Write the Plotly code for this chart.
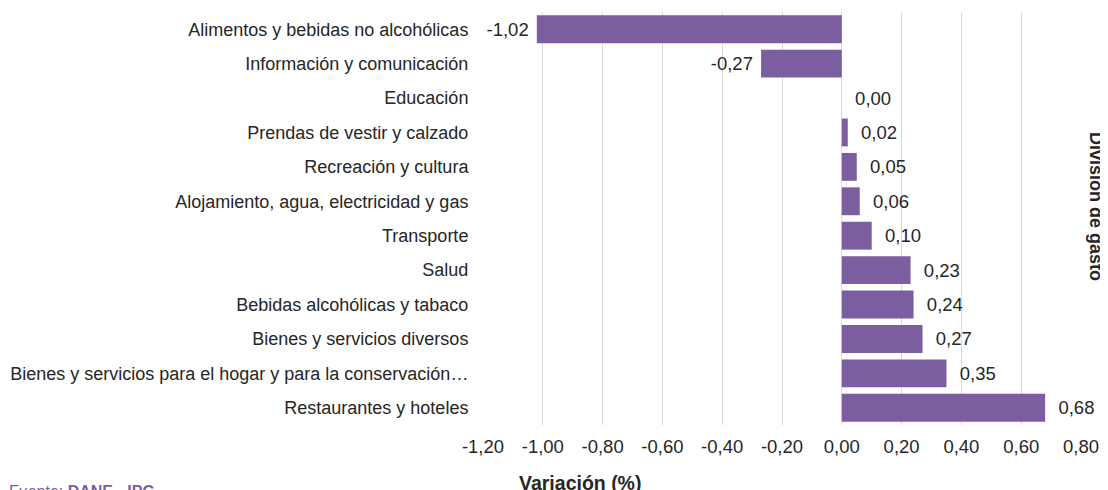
import plotly.graph_objects as go

categories = [
    "Alimentos y bebidas no alcohólicas",
    "Información y comunicación",
    "Educación",
    "Prendas de vestir y calzado",
    "Recreación y cultura",
    "Alojamiento, agua, electricidad y gas",
    "Transporte",
    "Salud",
    "Bebidas alcohólicas y tabaco",
    "Bienes y servicios diversos",
    "Bienes y servicios para el hogar y para la conservación…",
    "Restaurantes y hoteles",
]
values = [-1.02, -0.27, 0.00, 0.02, 0.05, 0.06, 0.10, 0.23, 0.24, 0.27, 0.35, 0.68]
tick_vals = [-1.2, -1.0, -0.8, -0.6, -0.4, -0.2, 0.0, 0.2, 0.4, 0.6, 0.8]
tick_text = ["-1,20", "-1,00", "-0,80", "-0,60", "-0,40", "-0,20", "0,00", "0,20", "0,40", "0,60", "0,80"]

def fmt(v):
    s = f"{v:.2f}".replace(".", ",")
    return s + "\u00a0" if v < 0 else "\u00a0\u00a0" + s

labels = [fmt(v) for v in values]

FONT = "Liberation Sans, Arial, sans-serif"
TXT = "#262626"
FS = 18.5

W, H = 1100, 482
L, R, T, B = 475, 27, 4, 65
PW, PH = W - L - R, H - T - B

fig = go.Figure(go.Bar(
    x=values, y=categories, orientation="h",
    marker=dict(color="#7b5e9f", line=dict(width=0)),
    text=labels, textposition="outside", cliponaxis=False,
    textfont=dict(family=FONT, size=FS, color=TXT),
))

fig.update_layout(
    width=W, height=H,
    margin=dict(l=L, r=R, t=T, b=B, autoexpand=False),
    paper_bgcolor="white", plot_bgcolor="white",
    bargap=0.19, showlegend=False,
    font=dict(family=FONT, size=FS, color=TXT),
    xaxis=dict(range=[-1.2, 0.8], tickvals=tick_vals, ticktext=tick_text,
               showgrid=True, gridcolor="#d9d9d9", gridwidth=1, zeroline=False,
               ticks="outside", ticklen=5, tickcolor="rgba(0,0,0,0)",
               tickfont=dict(size=FS, color=TXT), showline=False, automargin=False),
    yaxis=dict(autorange="reversed", showgrid=False, zeroline=False,
               ticks="outside", ticklen=10, tickcolor="rgba(0,0,0,0)",
               tickfont=dict(size=18, color=TXT), automargin=False),
    annotations=[
        dict(text="<b>Variación (%)</b>", xref="paper", yref="paper",
             x=(572 - L) / PW, y=-(475 - (H - B)) / PH, xanchor="center", yanchor="middle",
             showarrow=False, font=dict(size=19.5, color=TXT)),
        dict(text="<b>División de gasto</b>", xref="paper", yref="paper",
             x=(1088 - L) / PW, y=((H - B) - 198) / PH, xanchor="center", yanchor="middle",
             textangle=90, showarrow=False, font=dict(size=18, color=TXT)),
        dict(text="Fuente: <b>DANE - IPC</b>", xref="paper", yref="paper",
             x=-(L - 0) / PW, y=-(474 - (H - B)) / PH, xanchor="left", yanchor="top",
             borderpad=0, showarrow=False, font=dict(size=16, color="#7b5e9f")),
    ],
)

fig.write_html("out.html")
